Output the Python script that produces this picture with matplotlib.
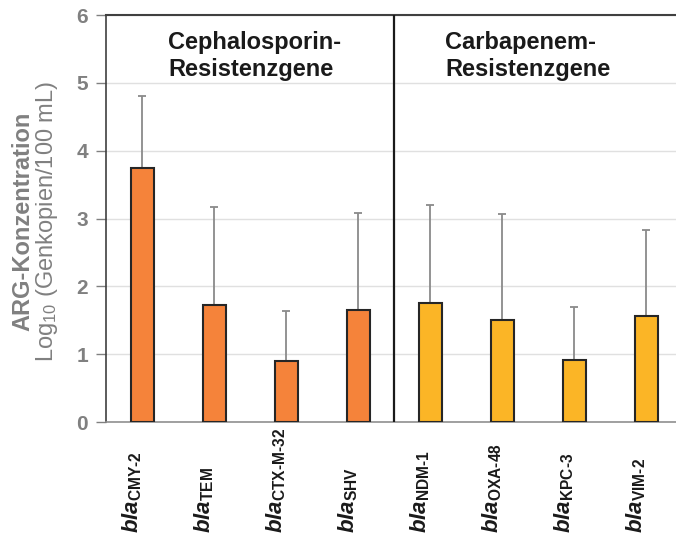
import matplotlib
matplotlib.use('Agg')
import matplotlib.pyplot as plt
import matplotlib.transforms as mtransforms

plt.rcParams['font.family'] = ['Liberation Sans', 'DejaVu Sans']
plt.rcParams['mathtext.fontset'] = 'custom'
plt.rcParams['mathtext.rm'] = 'Liberation Sans'
plt.rcParams['mathtext.it'] = 'Liberation Sans:italic:bold'
plt.rcParams['mathtext.bf'] = 'Liberation Sans:bold'

# data
genes = ['CMY\u20102', 'TEM', 'CTX\u2010M\u201032', 'SHV',
         'NDM\u20101', 'OXA\u201048', 'KPC\u20103', 'VIM\u20102']
means = [3.75, 1.73, 0.90, 1.65, 1.75, 1.50, 0.91, 1.57]
errors = [1.05, 1.44, 0.74, 1.43, 1.45, 1.56, 0.78, 1.26]
groups = ['Cephalosporin-\nResistenzgene', 'Carbapenem-\nResistenzgene']
group_colors = ['#F5833A', '#FBB526']

fig = plt.figure(figsize=(6.76, 5.39), dpi=100)
ax = fig.add_axes([0.157, 0.217, 0.852, 0.755])

x = list(range(len(genes)))
colors = [group_colors[0]] * 4 + [group_colors[1]] * 4
ax.bar(x, means, width=0.32, color=colors, edgecolor='#262626', linewidth=1.5, zorder=3)
ax.errorbar(x, means, yerr=[[0] * len(errors), errors], fmt='none',
            ecolor='#8a8a8a', elinewidth=1.3, capsize=3, capthick=1.3, zorder=2)

ax.set_xlim(-0.5, 7.5)
ax.set_ylim(0, 6)
ax.set_yticks(range(7))
ax.set_yticklabels([str(v) for v in range(7)], fontsize=15, fontweight='bold', color='#808080')
ax.tick_params(axis='y', length=7, width=1, color='#808080', pad=6)
ax.set_xticks([])
ax.yaxis.grid(True, color='#e0e0e0', linewidth=1, zorder=0)
ax.set_axisbelow(True)

ax.spines['left'].set_color('#404040')
ax.spines['left'].set_linewidth(1.2)
ax.spines['top'].set_color('#404040')
ax.spines['top'].set_linewidth(1.5)
ax.spines['bottom'].set_color('#909090')
ax.spines['bottom'].set_linewidth(1.2)
ax.spines['right'].set_visible(False)

ax.axvline(3.5, color='#1a1a1a', linewidth=1.6, zorder=4)

ax.text(0.36, 5.76, groups[0], fontsize=17, fontweight='bold', color='#1a1a1a',
        ha='left', va='top', linespacing=1.22)
ax.text(4.21, 5.76, groups[1], fontsize=17, fontweight='bold', color='#1a1a1a',
        ha='left', va='top', linespacing=1.22)

trans = mtransforms.blended_transform_factory(ax.transData, fig.transFigure)
for i, g in enumerate(genes):
    ax.text(i - 0.14, 0.011, r'$\mathit{bla}_{\mathbf{%s}}$' % g, transform=trans,
            rotation=90, ha='center', va='bottom', fontsize=16, color='#1a1a1a')

fig.text(0.034, 0.59, 'ARG-Konzentration', rotation=90, fontsize=17,
         fontweight='bold', color='#808080', ha='center', va='center')
fig.text(0.070, 0.59, r'Log$_{10}$ (Genkopien/100 mL)', rotation=90, fontsize=17,
         color='#808080', ha='center', va='center')

fig.savefig('out.png', dpi=100)
